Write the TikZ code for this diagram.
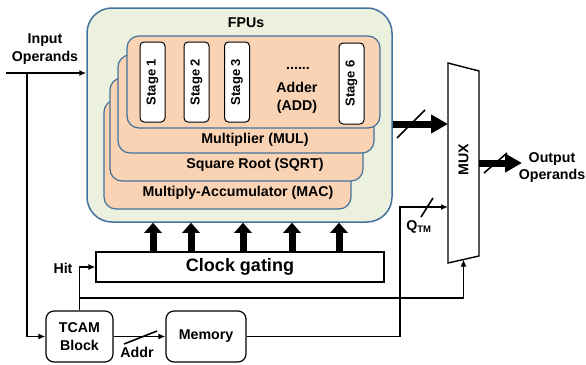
\documentclass[tikz,border=0pt]{standalone}
\usepackage{fontspec}
\setmainfont{Liberation Sans}
\usetikzlibrary{arrows.meta,calc}
\definecolor{bluec}{HTML}{41719C}
\definecolor{greenc}{HTML}{EBF1DE}
\definecolor{peach}{HTML}{FAD3B4}
\tikzset{
  fpubox/.style={draw=bluec,fill=greenc,line width=1.5pt,rounded corners=25pt,minimum width=305pt,minimum height=214pt,inner sep=0pt},
  unitbox/.style={draw=bluec,fill=peach,line width=1.2pt,rounded corners=12pt,inner sep=0pt},
  stagebox/.style={draw=black,fill=white,line width=1pt,rounded corners=4pt,minimum width=25pt,minimum height=80pt,inner sep=0pt},
  blkbox/.style={draw=black,fill=white,line width=1.2pt,rounded corners=8pt,inner sep=0pt,align=center},
  lbl/.style={font=\fontsize{14.2}{17.5}\selectfont\bfseries,align=center,inner sep=0pt},
  stlbl/.style={font=\fontsize{13}{14}\selectfont\bfseries,rotate=90,inner sep=0pt},
  wire/.style={line width=1.6pt,-{Latex[length=7pt,width=6pt]}},
  slash/.style={line width=1.6pt},
  bigarrow/.style={line width=7pt,-{Triangle[length=10pt,width=17pt]}},
  busarrow/.style={line width=7pt,-{Triangle[length=17pt,width=18pt]}},
}
\begin{document}
\begin{tikzpicture}[x=1pt,y=-1pt]
\useasboundingbox (0,0) rectangle (586,364);
% FPU container
\node[fpubox] (FPU) at (239.5,115) {};
\node[lbl] (fpulbl) at (246,23) {FPUs};
% units, back to front
\node[unitbox,minimum width=247pt,minimum height=109pt] (MAC) at (227.5,154.5) {};
\node[unitbox,minimum width=253pt,minimum height=103pt] (SQRT) at (236.5,129.5) {};
\node[unitbox,minimum width=256pt,minimum height=98pt] (MUL) at (246,104) {};
\node[unitbox,minimum width=253pt,minimum height=92pt] (ADD) at (253.5,82) {};
\node[lbl] (maclbl) at (238,193) {Multiply-Accumulator (MAC)};
\node[lbl] (sqrtlbl) at (255,165) {Square Root (SQRT)};
\node[lbl] (mullbl) at (255,140) {Multiplier (MUL)};
% stages
\node[stagebox] (S1) at (152.5,82) {};
\node[stlbl] at (S1) {Stage 1};
\node[stagebox] (S2) at (196.5,82) {};
\node[stlbl] at (S2) {Stage 2};
\node[stagebox] (S3) at (237,82) {};
\node[stagebox,minimum height=81pt] (S6) at (351.5,83.5) {};
\node[stlbl] at (S3) {Stage 3};
\node[stlbl] at (S6) {Stage 6};
\node[lbl] (dots) at (298,68) {......};
\node[lbl] (addlbl) at (297,98) {Adder\\(ADD)};
% clock gating
\node[draw=black,fill=white,line width=1.2pt,minimum width=288pt,minimum height=30pt,inner sep=0pt,font=\fontsize{18}{20}\selectfont\bfseries] (CG) at (240,267) {Clock gating};
\foreach \xx in {153,191,243,292,339}{
  \draw[bigarrow] (CG.north -| \xx,0) -- (FPU.south -| \xx,0);
}
% TCAM and memory
\node[blkbox,minimum width=67pt,minimum height=51pt,font=\fontsize{14.2}{17.5}\selectfont\bfseries] (TCAM) at (79.5,336.5) {TCAM\\Block};
\node[blkbox,minimum width=80pt,minimum height=51pt,font=\fontsize{14.2}{17}\selectfont\bfseries] (MEM) at (206,336.5) {Memory};
% MUX
\coordinate (mtl) at (448,63);
\coordinate (mtr) at (479,71);
\coordinate (mbr) at (479,256);
\coordinate (mbl) at (448,263);
\draw[line width=1.4pt,fill=white] (mtl) -- (mtr) -- (mbr) -- (mbl) -- cycle;
\node[lbl,rotate=90] (MUX) at (463.5,160) {MUX};
\coordinate (muxbot) at (463.5,259.5);
% input
\coordinate (inL) at (6,73);
\coordinate (tap) at (27,73);
\node[lbl] (inlbl) at (45,49) {Input\\Operands};
\draw[wire] (inL) -- (FPU.west |- inL);
\draw[wire] (tap) |- (TCAM.west);
% hit
\node[lbl] (hitlbl) at (63,268) {Hit};
\draw[wire] (TCAM.north) |- (CG.west);
\draw[wire] (TCAM.north |- 0,298) -| (muxbot);
% addr
\draw[wire] (TCAM.east) -- (MEM.west);
\draw[slash] (124,344) -- (157,331);
\node[lbl] (addrlbl) at (137,352) {Addr};
% memory to mux
\draw[wire] (MEM.east) -| (400,207) -- (mbl |- 0,207);
\draw[slash] (421,217) -- (433,198);
\node[lbl] (qtm) at (419,227) {Q\textsubscript{\fontsize{9.5}{10}\selectfont TM}};
% FPU to MUX
\draw[busarrow] (FPU.east |- 0,124) -- (mtl |- 0,124);
\draw[slash] (397,138) -- (425,110);
% output
\draw[busarrow] (mtr |- 0,163) -- (522,163);
\draw[slash] (484,173) -- (507,153);
\node[lbl] (outlbl) at (552,167.5) {Output\\Operands};
\end{tikzpicture}
\end{document}
